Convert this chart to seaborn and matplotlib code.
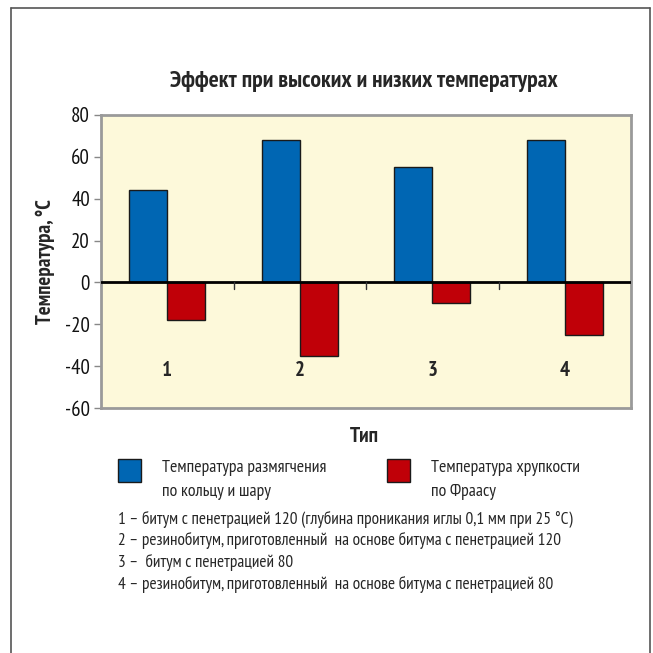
import pandas as pd
import numpy as np
import matplotlib.pyplot as plt
import seaborn as sns
from matplotlib.patches import Rectangle
from matplotlib.lines import Line2D

# data
types = ['1', '2', '3', '4']
soft_temp = [44, 68, 55, 68]      # Температура размягчения по кольцу и шару
brittle_temp = [-18, -35, -10, -25]  # Температура хрупкости по Фраасу
series = ['soft', 'brittle']
notes = [
    '1 – битум с пенетрацией 120 (глубина проникания иглы 0,1 мм при 25 °C)',
    '2 – резинобитум, приготовленный  на основе битума с пенетрацией 120',
    '3 –  битум с пенетрацией 80',
    '4 – резинобитум, приготовленный  на основе битума с пенетрацией 80',
]

df = pd.DataFrame({
    'Тип': types * 2,
    'Температура': soft_temp + brittle_temp,
    'series': [series[0]] * 4 + [series[1]] * 4,
})

sns.set_style('white')
plt.rcParams['font.family'] = ['PT Sans Narrow', 'Roboto Condensed', 'DejaVu Sans']
plt.rcParams['axes.unicode_minus'] = False

blue = '#0066B3'
red = '#C00008'

fig = plt.figure(figsize=(6.53, 6.53), dpi=100)
ax = fig.add_axes([101 / 653, 1 - 408 / 653, 530 / 653, 293 / 653])

sns.barplot(data=df, x='Тип', y='Температура', hue='series',
            palette=[blue, red], saturation=1, width=0.575, ax=ax,
            edgecolor='#1a1a1a', linewidth=1, legend=False)

ax.set_facecolor('#FDF9DA')
ax.set_ylim(-60, 80)
ax.set_xlim(-0.5, 3.5)
ax.set_yticks(np.arange(-60, 81, 20))
ax.tick_params(axis='y', labelsize=15, length=5, width=1, color='#888888',
               pad=3, left=True, labelcolor='#111111')
ax.set_xticks([])
for s in ax.spines.values():
    s.set_color('#9a9a9a')
    s.set_linewidth(2)

# zero line and category separators
ax.axhline(0, color='black', lw=2, zorder=5)
for xb in [0.5, 1.5, 2.5]:
    ax.plot([xb, xb], [0, -3], color='#333333', lw=1, zorder=5)

for i, t in enumerate(types):
    ax.text(i, -42, t, ha='center', va='center', fontsize=15, fontweight='bold')

ax.set_xlabel('')
ax.set_ylabel('Температура, °С', fontsize=15, fontweight='bold', labelpad=7)
fig.text(364 / 653, 1 - 437 / 653, 'Тип', ha='center', va='center',
         fontsize=15.5, fontweight='bold')
fig.text(364 / 653, 1 - 82 / 653, 'Эффект при высоких и низких температурах',
         ha='center', va='center', fontsize=17, fontweight='bold')

# legend
for x0, c, lines in [(118, blue, ['Температура размягчения', 'по кольцу и шару']),
                     (387, red, ['Температура хрупкости', 'по Фраасу'])]:
    fig.add_artist(Rectangle((x0 / 653, 1 - 482 / 653), 23 / 653, 23 / 653,
                             facecolor=c, edgecolor='#1a1a1a', lw=1,
                             transform=fig.transFigure))
    for j, ln in enumerate(lines):
        fig.text((x0 + 44) / 653, 1 - (468 + 24 * j) / 653, ln,
                 ha='left', va='center', fontsize=12.8)

for j, n in enumerate(notes):
    fig.text(118 / 653, 1 - (519 + 21.7 * j) / 653, n, ha='left', va='center', fontsize=12.4)

# outer frame
for xs, ys in [([11, 11], [653, 8]), ([11, 650], [8, 8]), ([650, 650], [8, 653])]:
    fig.add_artist(Line2D([x / 653 for x in xs], [1 - y / 653 for y in ys],
                          color='#555555', lw=1.2, transform=fig.transFigure))

fig.savefig('out.png', dpi=100)
